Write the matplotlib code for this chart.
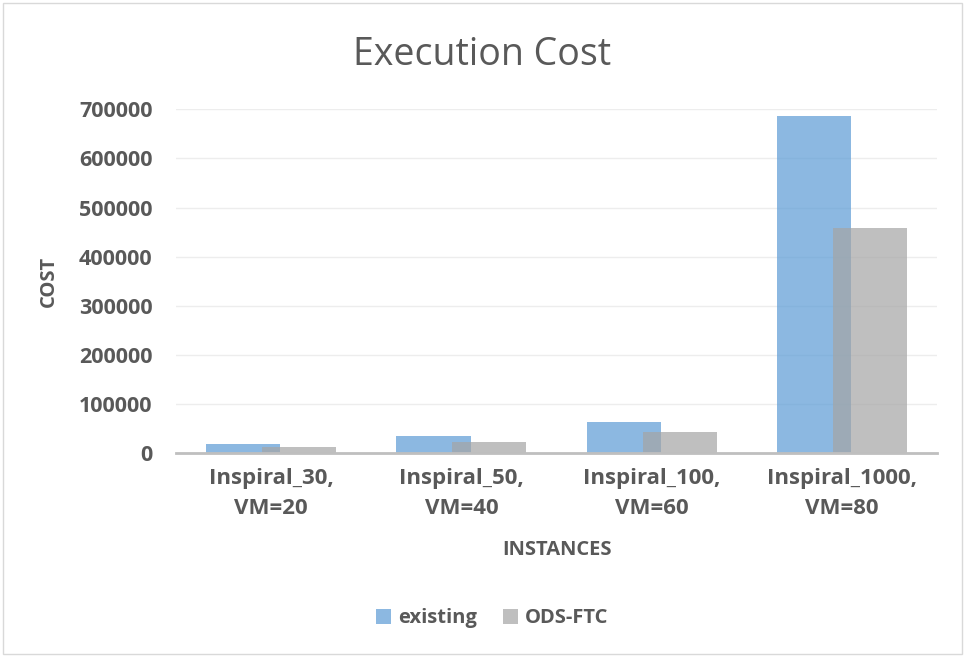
import matplotlib
matplotlib.use("Agg")
import matplotlib.pyplot as plt
import numpy as np
from matplotlib.patches import Rectangle

categories = ["Inspiral_30,\nVM=20", "Inspiral_50,\nVM=40", "Inspiral_100,\nVM=60", "Inspiral_1000,\nVM=80"]
existing = [18500, 34000, 63000, 687000]
ods_ftc = [12000, 22000, 42000, 458000]
yticks = [0, 100000, 200000, 300000, 400000, 500000, 600000, 700000]

plt.rcParams['font.family'] = ['Open Sans', 'DejaVu Sans']
txt = '#595959'

fig = plt.figure(figsize=(9.65, 6.57), dpi=100)
ax = fig.add_axes([0.1824, 0.3105, 0.7886, 0.523])

x = np.arange(len(categories))
w = 0.39
ax.bar(x - 0.147, existing, width=w, color='#5B9BD5', alpha=0.7, label='existing', zorder=2)
ax.bar(x + 0.147, ods_ftc, width=w, color='#A5A5A5', alpha=0.7, label='ODS-FTC', zorder=3)

ax.set_xlim(-0.5, len(categories) - 0.5)
ax.set_ylim(0, 700000)
ax.set_yticks(yticks)
ax.set_yticklabels([str(v) for v in yticks])
ax.set_xticks(x)
ax.set_xticklabels(categories, linespacing=1.55)
ax.grid(axis='y', color='#EDEDED', linewidth=1, zorder=0)
ax.set_axisbelow(True)
for s in ['top', 'right', 'left']:
    ax.spines[s].set_visible(False)
ax.spines['bottom'].set_color('#BFBFBF')
ax.spines['bottom'].set_linewidth(2)
ax.spines['bottom'].set_zorder(4)
ax.tick_params(axis='both', length=0, labelcolor=txt)
ax.tick_params(axis='x', pad=11, labelsize=16)
ax.tick_params(axis='y', pad=17, labelsize=15.5)
for lab in ax.get_xticklabels() + ax.get_yticklabels():
    lab.set_fontweight('bold')

ax.set_xlabel('INSTANCES', fontsize=14.5, fontweight='bold', color=txt, labelpad=15)
ax.set_ylabel('COST', fontsize=14.5, fontweight='bold', color=txt, labelpad=14)

fig.text(0.5, 0.916, 'Execution Cost', ha='center', va='center', fontsize=27, color=txt)

leg = fig.legend(loc='center', bbox_to_anchor=(0.51, 0.059), ncol=2, frameon=False,
                 prop={'weight': 'bold', 'size': 14.5}, handlelength=0.75, handleheight=0.75,
                 columnspacing=1.3, handletextpad=0.35)
for t in leg.get_texts():
    t.set_color(txt)

fig.patches.append(Rectangle((0.003, 0.004), 0.994, 0.992, transform=fig.transFigure,
                             fill=False, edgecolor='#D9D9D9', linewidth=1))

fig.savefig('out.png', dpi=100)
